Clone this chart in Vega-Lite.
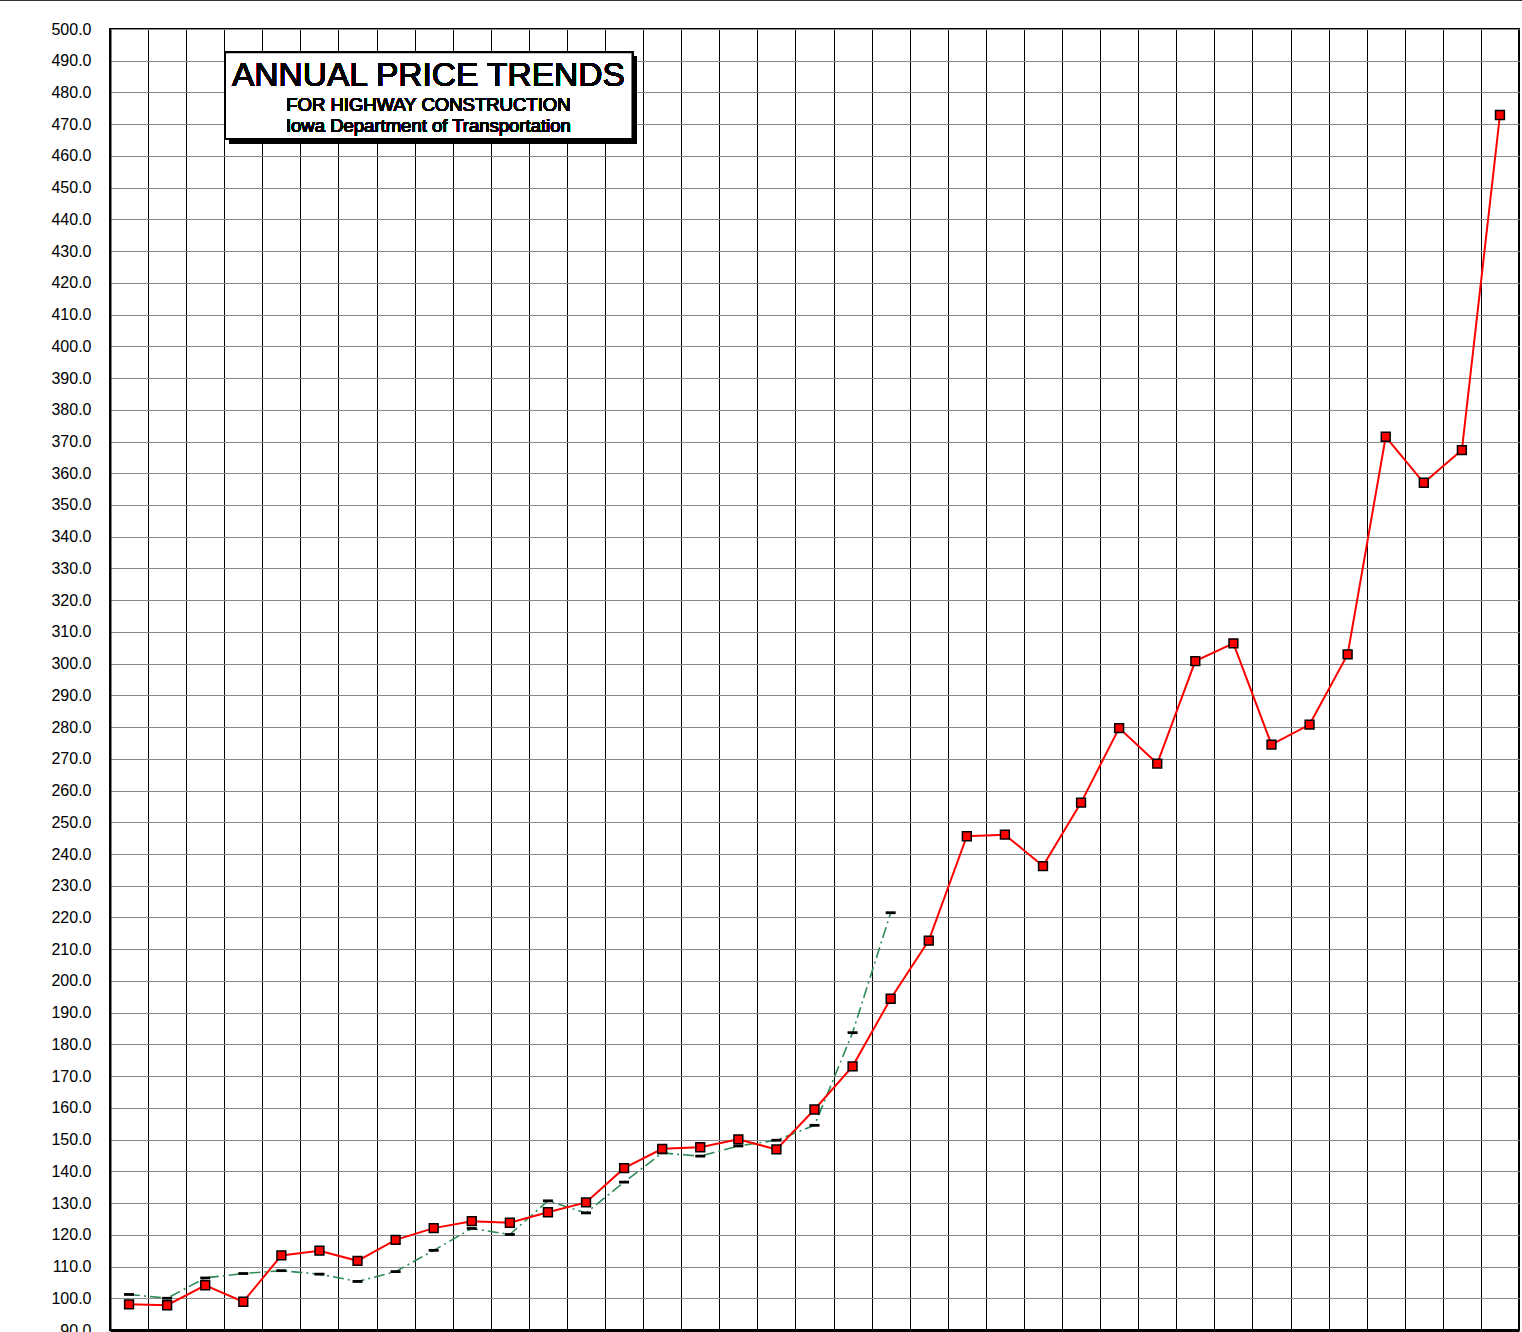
{
  "$schema": "https://vega.github.io/schema/vega-lite/v6.json",
  "autosize": {"type": "none"},
  "padding": {"left": 110, "top": 29, "right": 3, "bottom": 2},
  "width": 1409,
  "height": 1301,
  "background": "white",
  "config": {
    "font": "Arial",
    "view": {"stroke": "#000", "strokeWidth": 2},
    "axis": {"labelFont": "Arial", "labelColor": "#000"}
  },
  "data": {
    "values": [
      {"n": 1, "iowa": 98.1, "other": 101.2},
      {"n": 2, "iowa": 97.8, "other": 100.0},
      {"n": 3, "iowa": 104.1, "other": 106.4},
      {"n": 4, "iowa": 98.9, "other": 107.8},
      {"n": 5, "iowa": 113.5, "other": 108.7},
      {"n": 6, "iowa": 115.0, "other": 107.6},
      {"n": 7, "iowa": 111.8, "other": 105.3},
      {"n": 8, "iowa": 118.4, "other": 108.4},
      {"n": 9, "iowa": 122.1, "other": 115.1},
      {"n": 10, "iowa": 124.3, "other": 122.0},
      {"n": 11, "iowa": 123.8, "other": 120.1},
      {"n": 12, "iowa": 127.1, "other": 130.7},
      {"n": 13, "iowa": 130.2, "other": 126.9},
      {"n": 14, "iowa": 141.0, "other": 136.6},
      {"n": 15, "iowa": 147.1, "other": 145.8},
      {"n": 16, "iowa": 147.6, "other": 144.8},
      {"n": 17, "iowa": 150.1, "other": 148.0},
      {"n": 18, "iowa": 146.9, "other": 149.8},
      {"n": 19, "iowa": 159.5, "other": 154.5},
      {"n": 20, "iowa": 173.1, "other": 183.7},
      {"n": 21, "iowa": 194.4, "other": 221.5},
      {"n": 22, "iowa": 212.7, "other": null},
      {"n": 23, "iowa": 245.6, "other": null},
      {"n": 24, "iowa": 246.1, "other": null},
      {"n": 25, "iowa": 236.2, "other": null},
      {"n": 26, "iowa": 256.2, "other": null},
      {"n": 27, "iowa": 279.7, "other": null},
      {"n": 28, "iowa": 268.5, "other": null},
      {"n": 29, "iowa": 300.8, "other": null},
      {"n": 30, "iowa": 306.4, "other": null},
      {"n": 31, "iowa": 274.5, "other": null},
      {"n": 32, "iowa": 280.8, "other": null},
      {"n": 33, "iowa": 302.9, "other": null},
      {"n": 34, "iowa": 371.5, "other": null},
      {"n": 35, "iowa": 357.0, "other": null},
      {"n": 36, "iowa": 367.3, "other": null},
      {"n": 37, "iowa": 472.9, "other": null}
    ]
  },
  "encoding": {
    "x": {
      "field": "n",
      "type": "quantitative",
      "scale": {"domain": [0.5, 37.5], "nice": false, "zero": false},
      "axis": {
        "title": null,
        "labels": false,
        "ticks": false,
        "domain": true,
        "domainColor": "#000",
        "domainWidth": 3,
        "grid": true,
        "gridColor": "#000",
        "gridWidth": 1,
        "gridOpacity": 1,
        "values": [0.5, 1.5, 2.5, 3.5, 4.5, 5.5, 6.5, 7.5, 8.5, 9.5, 10.5, 11.5, 12.5, 13.5, 14.5, 15.5, 16.5, 17.5, 18.5, 19.5, 20.5, 21.5, 22.5, 23.5, 24.5, 25.5, 26.5, 27.5, 28.5, 29.5, 30.5, 31.5, 32.5, 33.5, 34.5, 35.5, 36.5, 37.5]
      }
    }
  },
  "layer": [
    {
      "mark": {"type": "line", "color": "#2e8b57", "strokeWidth": 1.6, "strokeDash": [11, 4, 2, 4]},
      "encoding": {
        "y": {
          "field": "other",
          "type": "quantitative",
          "scale": {"domain": [90, 500], "nice": false, "zero": false},
          "axis": {
            "title": null,
            "format": ".1f",
            "tickCount": 41,
            "ticks": false,
            "labelPadding": 19,
            "labelFontSize": 16,
            "domain": true,
            "domainColor": "#000",
            "domainWidth": 2,
            "grid": true,
            "gridColor": "#8a8a8a",
            "gridWidth": 1,
            "gridOpacity": 1
          }
        }
      }
    },
    {
      "mark": {"type": "point", "shape": "M-1,-0.28L1,-0.28L1,0.28L-1,0.28Z", "filled": true, "fill": "#000", "stroke": null, "size": 100, "opacity": 1},
      "encoding": {"y": {"field": "other", "type": "quantitative"}}
    },
    {
      "mark": {"type": "line", "color": "#ff0000", "strokeWidth": 2},
      "encoding": {"y": {"field": "iowa", "type": "quantitative"}}
    },
    {
      "mark": {"type": "point", "shape": "square", "filled": true, "fill": "#ff0000", "stroke": "#000", "strokeWidth": 1.5, "size": 78, "opacity": 1},
      "encoding": {"y": {"field": "iowa", "type": "quantitative"}}
    },
    {
      "mark": {"type": "rect", "fill": "#000", "stroke": null},
      "encoding": {
        "x": {"datum": 3.63},
        "x2": {"datum": 14.33},
        "y": {"datum": 491.3},
        "y2": {"datum": 463.97}
      }
    },
    {
      "mark": {"type": "rect", "fill": "#fff", "stroke": "#000", "strokeWidth": 2},
      "encoding": {
        "x": {"datum": 3.52},
        "x2": {"datum": 14.22},
        "y": {"datum": 492.66},
        "y2": {"datum": 465.33}
      }
    },
    {
      "mark": {"type": "text", "text": "ANNUAL PRICE TRENDS", "font": "Arial", "fontWeight": "normal", "fontSize": 33.5, "align": "center", "baseline": "alphabetic", "fill": "#000", "strokeWidth": 0},
      "encoding": {"x": {"datum": 8.86}, "y": {"datum": 482.13}}
    },
    {
      "mark": {"type": "text", "text": "FOR HIGHWAY CONSTRUCTION", "font": "Arial", "fontWeight": "normal", "fontSize": 18.5, "align": "center", "baseline": "alphabetic", "fill": "#000", "strokeWidth": 0},
      "encoding": {"x": {"datum": 8.86}, "y": {"datum": 474.16}}
    },
    {
      "mark": {"type": "text", "text": "Iowa Department of Transportation", "font": "Arial", "fontWeight": "normal", "fontSize": 18.5, "align": "center", "baseline": "alphabetic", "fill": "#000", "strokeWidth": 0},
      "encoding": {"x": {"datum": 8.86}, "y": {"datum": 467.45}}
    },
    {
      "mark": {"type": "rule", "color": "#333", "strokeWidth": 1},
      "encoding": {
        "x": {"datum": -2.4},
        "x2": {"datum": 37.6},
        "y": {"datum": 508.98}
      }
    }
  ]
}
